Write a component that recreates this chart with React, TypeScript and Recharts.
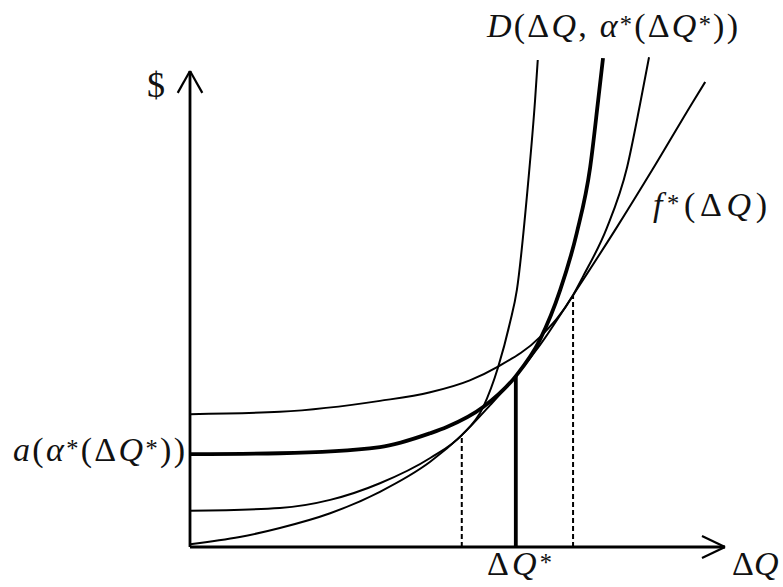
import React from "react";
import { ComposedChart, Line, XAxis, YAxis, ReferenceLine } from "recharts";

// curve points (x = ΔQ, y = $), arbitrary units
const fStarX = [0, 0.93, 1.68, 2.62, 3.55, 4.49, 5.08, 5.61, 6.09, 6.54, 7.16, 7.98, 8.65, 9.4, 9.63];
const fStarY = [0.06, 0.21, 0.4, 0.71, 1.16, 1.79, 2.35, 2.98, 3.59, 4.24, 5.29, 6.72, 7.94, 9.35, 9.77];

const dLowX = [0, 1.68, 2.62, 3.55, 4.49, 5.08, 5.48, 5.76, 5.98, 6.11, 6.32, 6.45, 6.5];
const dLowY = [0.76, 0.82, 0.99, 1.34, 1.87, 2.35, 2.94, 3.78, 4.71, 5.4, 7.65, 9.39, 10.23];

const dStarX = [0, 1.68, 3.55, 4.49, 4.8, 5.48, 6.09, 6.54, 6.92, 7.23, 7.48, 7.63, 7.72];
const dStarY = [1.95, 1.97, 2.1, 2.39, 2.52, 2.94, 3.59, 4.35, 5.4, 6.6, 7.98, 9.39, 10.27];

const dHighX = [0, 1.68, 3.55, 4.49, 5.23, 5.74, 6.54, 7.16, 7.35, 7.79, 8.17, 8.41, 8.58];
const dHighY = [2.79, 2.84, 3.07, 3.25, 3.5, 3.78, 4.41, 5.29, 5.69, 6.7, 7.98, 9.29, 10.29];

// tangency points dropped to the ΔQ axis
const dropX = [5.08, 6.09, 7.16];
const dropY = [2.35, 3.59, 5.29];

const xMax = 10;
const yMax = 10;

const toPts = (xs: number[], ys: number[]) => xs.map((x, i) => ({ x, y: ys[i] }));

const FONT = '"Liberation Serif", "DejaVu Serif", serif';

type Part = [string, "i" | "u" | "s"];

function MathText({ x, y, parts, len, size = 34 }: { x: number; y: number; parts: Part[]; len?: number; size?: number }) {
  return (
    <text
      x={x}
      y={y}
      fontFamily={FONT}
      fontSize={size}
      fill="#111"
      textLength={len}
      lengthAdjust={len ? "spacing" : undefined}
    >
      {parts.map(([t, s], i) =>
        s === "s" ? (
          <tspan key={i} fontSize={size * 0.72} dy={-4}>
            {t}
          </tspan>
        ) : (
          <tspan key={i} fontStyle={s === "i" ? "italic" : "normal"} dy={i > 0 && parts[i - 1][1] === "s" ? 4 : 0}>
            {t}
          </tspan>
        )
      )}
    </text>
  );
}

export default function App() {
  const axis = { stroke: "#000", strokeWidth: 2.8, ifOverflow: "visible" as const };
  return (
    <div style={{ position: "absolute", left: 0, top: 0, width: 783, height: 587, background: "#fff" }}>
      <ComposedChart
        width={783}
        height={587}
        margin={{ top: 23.4, right: 31.25, bottom: 16.2, left: 163.25 }}
      >
        <XAxis type="number" dataKey="x" domain={[-0.5, 10.5]} hide />
        <YAxis type="number" dataKey="y" domain={[-0.5, 11]} hide />

        {/* axes with arrow heads */}
        <ReferenceLine segment={[{ x: 0, y: 0 }, { x: 0, y: yMax }]} {...axis} />
        <ReferenceLine segment={[{ x: -0.23, y: 9.54 }, { x: 0, y: yMax }]} {...axis} strokeWidth={2.2} />
        <ReferenceLine segment={[{ x: 0.23, y: 9.54 }, { x: 0, y: yMax }]} {...axis} strokeWidth={2.2} />
        <ReferenceLine segment={[{ x: 0, y: 0 }, { x: xMax, y: 0 }]} {...axis} />
        <ReferenceLine segment={[{ x: 9.57, y: 0.23 }, { x: xMax, y: 0 }]} {...axis} strokeWidth={2.2} />
        <ReferenceLine segment={[{ x: 9.57, y: -0.23 }, { x: xMax, y: 0 }]} {...axis} strokeWidth={2.2} />

        {/* drops from tangency points */}
        <ReferenceLine segment={[{ x: dropX[0], y: 0 }, { x: dropX[0], y: dropY[0] }]} stroke="#000" strokeWidth={2} strokeDasharray="5 3" />
        <ReferenceLine segment={[{ x: dropX[1], y: 0 }, { x: dropX[1], y: dropY[1] }]} stroke="#000" strokeWidth={3.8} />
        <ReferenceLine segment={[{ x: dropX[2], y: 0 }, { x: dropX[2], y: dropY[2] }]} stroke="#000" strokeWidth={2} strokeDasharray="5 3" />

        <Line data={toPts(fStarX, fStarY)} dataKey="y" type="monotone" stroke="#000" strokeWidth={2} dot={false} isAnimationActive={false} />
        <Line data={toPts(dLowX, dLowY)} dataKey="y" type="monotone" stroke="#000" strokeWidth={2} dot={false} isAnimationActive={false} />
        <Line data={toPts(dHighX, dHighY)} dataKey="y" type="monotone" stroke="#000" strokeWidth={2} dot={false} isAnimationActive={false} />
        <Line data={toPts(dStarX, dStarY)} dataKey="y" type="monotone" stroke="#000" strokeWidth={3.8} dot={false} isAnimationActive={false} />
      </ComposedChart>

      <svg width={783} height={587} style={{ position: "absolute", left: 0, top: 0, pointerEvents: "none" }}>
        <MathText x={147} y={97} size={36} parts={[["$", "u"]]} />
        <MathText
          x={487}
          y={37}
          len={251}
          parts={[["D", "i"], ["(Δ", "u"], ["Q", "i"], [", ", "u"], ["α", "i"], ["*", "s"], ["(Δ", "u"], ["Q", "i"], ["*", "s"], ["))", "u"]]}
        />
        <MathText x={653} y={216} len={114} parts={[["f", "i"], ["*", "s"], ["(Δ", "u"], ["Q", "i"], [")", "u"]]} />
        <MathText
          x={13}
          y={461}
          len={172}
          parts={[["a", "i"], ["(", "u"], ["α", "i"], ["*", "s"], ["(Δ", "u"], ["Q", "i"], ["*", "s"], ["))", "u"]]}
        />
        <MathText x={487} y={575} len={65} parts={[["Δ", "u"], ["Q", "i"], ["*", "s"]]} />
        <MathText x={732} y={575} parts={[["Δ", "u"], ["Q", "i"]]} />
      </svg>
    </div>
  );
}
